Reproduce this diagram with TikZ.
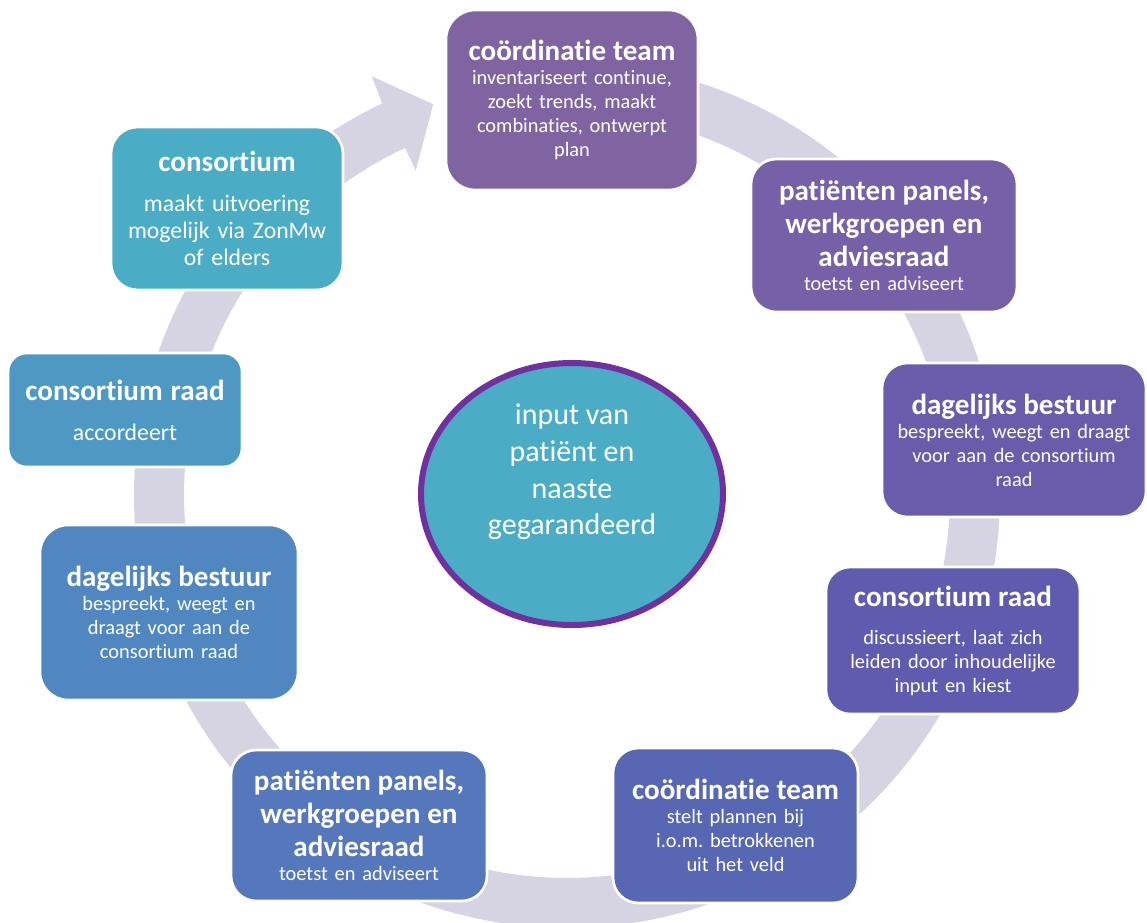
\documentclass[tikz,border=0pt]{standalone}
\usepackage{fontspec}
\setmainfont{Carlito}[Ligatures={NoCommon}]
\frenchspacing
\usetikzlibrary{shapes.geometric}
\definecolor{ringc}{RGB}{214,211,227}
\definecolor{cA}{RGB}{128,100,162}
\definecolor{cB}{RGB}{118,96,167}
\definecolor{cC}{RGB}{106,92,170}
\definecolor{cD}{RGB}{95,91,174}
\definecolor{cE}{RGB}{88,103,180}
\definecolor{cF}{RGB}{85,119,187}
\definecolor{cG}{RGB}{80,135,192}
\definecolor{cH}{RGB}{78,153,196}
\definecolor{cI}{RGB}{75,172,198}
\definecolor{purp}{RGB}{112,48,160}
\newcommand\titf{\fontsize{21.8}{25}\selectfont\bfseries}
\newcommand\bodyf{\fontsize{15.3}{18}\selectfont}
\newcommand\bigbodyf{\fontsize{17.8}{20}\selectfont}
\newcommand\hubf{\fontsize{22.5}{27.5}\selectfont}
\tikzset{
  box/.style={draw=white, line width=2pt, text=white, align=center, inner sep=0pt, font=\bodyf},
  ringarrow/.style={fill=ringc, draw=none},
  hubstyle/.style={ellipse, draw=purp, line width=4.5pt, fill=cI, inner sep=0pt},
}
\begin{document}
\begin{tikzpicture}[x=0.75pt,y=-0.75pt]
\useasboundingbox (0,0) rectangle (1147,922);
% circular arrow
\fill[ringarrow]
  plot[domain=0:1, samples=240] ({567+433*cos(100-345*\x)},{495-433*sin(100-345*\x)})
  -- ({567+462*cos(115)},{495-462*sin(115)})
  -- ({567+413*cos(108.9)},{495-413*sin(108.9)})
  -- ({567+358*cos(115)},{495-358*sin(115)})
  -- plot[domain=0:1, samples=240] ({567+383*cos(-245+345*\x)},{495-383*sin(-245+345*\x)})
  -- cycle;
% boxes
\node[box, fill=cA, minimum width=189pt, minimum height=135pt, text width=189pt, rounded corners=22pt] (ct1) at (572,100)
  {{\titf coördinatie team\par}inventariseert continue,\\zoekt trends, maakt\\combinaties, ontwerpt\\plan};
\node[box, fill=cB, minimum width=199.5pt, minimum height=114.75pt, text width=199.5pt, rounded corners=19pt] (pp1) at (884,235.5)
  {{\titf patiënten panels,\\werkgroepen en\\adviesraad\par}toetst en adviseert};
\node[box, fill=cC, minimum width=198pt, minimum height=115.5pt, text width=198pt, rounded corners=19pt] (db1) at (1014,440)
  {{\titf dagelijks bestuur\par}bespreekt, weegt en draagt\\voor aan de consortium\\raad};
\node[box, fill=cD, minimum width=190.5pt, minimum height=110.25pt, text width=190.5pt, rounded corners=18pt] (cr1) at (953,640.5)
  {{\titf consortium raad\par}\vspace{10.5pt}discussieert, laat zich\\leiden door inhoudelijke\\input en kiest};
\node[box, fill=cE, minimum width=183.75pt, minimum height=116.25pt, text width=183.75pt, rounded corners=19pt] (ct2) at (735.5,825.5)
  {{\titf coördinatie team\par}stelt plannen bij\\i.o.m. betrokkenen\\uit het veld};
\node[box, fill=cF, minimum width=192pt, minimum height=113.25pt, text width=192pt, rounded corners=19pt] (pp2) at (359,825.5)
  {{\titf patiënten panels,\\werkgroepen en\\adviesraad\par}toetst en adviseert};
\node[box, fill=cG, minimum width=193.5pt, minimum height=131.25pt, text width=193.5pt, rounded corners=21pt] (db2) at (169,612.5)
  {{\titf dagelijks bestuur\par}bespreekt, weegt en\\draagt voor aan de\\consortium raad};
\node[box, fill=cH, minimum width=175.5pt, minimum height=85.5pt, text width=175.5pt, rounded corners=14pt, font=\bigbodyf] (cr2) at (125,410)
  {{\titf consortium raad\par}\vspace{10pt}accordeert};
\node[box, fill=cI, minimum width=174pt, minimum height=122.25pt, text width=174pt, rounded corners=20pt, font=\bigbodyf] (cons) at (227,208.5)
  {{\titf consortium\par}\vspace{10pt}maakt uitvoering\\mogelijk via ZonMw\\of elders};
% hub
\node[hubstyle, minimum width=226.5pt, minimum height=196.5pt] (hub) at (572,494) {};
\node[text=white, align=center, font=\hubf, inner sep=0pt] (hubtxt) at (572,472)
  {input van\\patiënt en\\naaste\\gegarandeerd};
\end{tikzpicture}
\end{document}
